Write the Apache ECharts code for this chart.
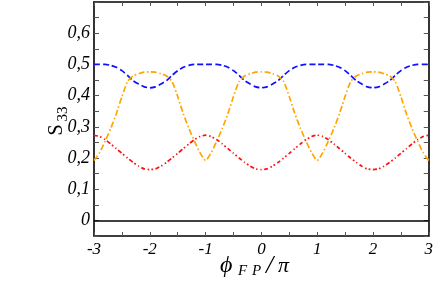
<!DOCTYPE html>
<html>
<head>
<meta charset="utf-8">
<script src="https://cdn.jsdelivr.net/npm/echarts@6/dist/echarts.min.js"></script>
<style>html,body{margin:0;padding:0;background:#fff}#c{width:436px;height:281px}</style>
</head>
<body>
<div id="c"></div>
<script>
// phi_FP / pi sample positions
var xValues = [];
for (var i = 0; i <= 60; i++) { xValues.push(Math.round((-3 + i * 0.1) * 10) / 10); }

var blueS = [
  0.500,0.500,0.500,0.497,0.491,0.480,0.465,0.448,0.437,0.428,0.425,
  0.428,0.437,0.448,0.465,0.480,0.491,0.497,0.500,0.500,0.500,
  0.500,0.500,0.497,0.491,0.480,0.465,0.448,0.437,0.428,0.425,
  0.428,0.437,0.448,0.465,0.480,0.491,0.497,0.500,0.500,0.500,
  0.500,0.500,0.497,0.491,0.480,0.465,0.448,0.437,0.428,0.425,
  0.428,0.437,0.448,0.465,0.480,0.491,0.497,0.500,0.500,0.500
];
var orangeS = [
  0.192,0.217,0.254,0.295,0.342,0.397,0.445,0.463,0.470,0.475,0.476,
  0.475,0.470,0.463,0.445,0.397,0.342,0.295,0.254,0.217,0.192,
  0.217,0.254,0.295,0.342,0.397,0.445,0.463,0.470,0.475,0.476,
  0.475,0.470,0.463,0.445,0.397,0.342,0.295,0.254,0.217,0.192,
  0.217,0.254,0.295,0.342,0.397,0.445,0.463,0.470,0.475,0.476,
  0.475,0.470,0.463,0.445,0.397,0.342,0.295,0.254,0.217,0.192
];
var redS = [
  0.273,0.269,0.259,0.245,0.230,0.215,0.200,0.186,0.174,0.165,0.163,
  0.165,0.174,0.186,0.200,0.215,0.230,0.245,0.259,0.269,0.273,
  0.269,0.259,0.245,0.230,0.215,0.200,0.186,0.174,0.165,0.163,
  0.165,0.174,0.186,0.200,0.215,0.230,0.245,0.259,0.269,0.273,
  0.269,0.259,0.245,0.230,0.215,0.200,0.186,0.174,0.165,0.163,
  0.165,0.174,0.186,0.200,0.215,0.230,0.245,0.259,0.269,0.273
];
var xTickLabels = ['-3','-2','-1','0','1','2','3'];
var yTickLabels = ['0','0,1','0,2','0,3','0,4','0,5','0,6'];

function pairs(ys) { return xValues.map(function (x, i) { return [x, ys[i]]; }); }

var serif = 'Liberation Serif';
var frame = { show: true, onZero: false, lineStyle: { color: '#000', width: 1.6 } };
var tickStyle = { color: '#555', width: 1 };

var chart = echarts.init(document.getElementById('c'), null, { renderer: 'canvas' });
chart.setOption({
  animation: false,
  grid: { left: 94, right: 6, top: 2, bottom: 45 },
  xAxis: [
    {
      type: 'value', min: -3, max: 3, interval: 1, position: 'bottom',
      axisLine: frame,
      axisTick: { show: true, inside: true, length: 4, lineStyle: tickStyle },
      minorTick: { show: true, splitNumber: 2, length: 4, lineStyle: tickStyle },
      splitLine: { show: false },
      axisLabel: {
        fontFamily: serif, fontStyle: 'italic', fontSize: 17, color: '#000', margin: 5,
        formatter: function (v) { var k = Math.round(v) + 3; return xTickLabels[k]; }
      }
    },
    {
      type: 'value', min: -3, max: 3, interval: 1, position: 'top',
      axisLine: frame,
      axisTick: { show: true, inside: true, length: 4, lineStyle: tickStyle },
      minorTick: { show: true, splitNumber: 2, length: 4, lineStyle: tickStyle },
      splitLine: { show: false }, axisLabel: { show: false }
    }
  ],
  yAxis: [
    {
      type: 'value', min: -0.05, max: 0.7, interval: 0.05, position: 'left',
      axisLine: frame,
      axisTick: { show: true, inside: true, length: 5, lineStyle: tickStyle },
      splitLine: { show: false },
      axisLabel: {
        fontFamily: serif, fontStyle: 'italic', fontSize: 18, color: '#000', margin: 4,
        formatter: function (v) {
          var k = Math.round(v * 20);
          if (k < 0 || k % 2 !== 0) return '';
          return yTickLabels[k / 2] || '';
        }
      }
    },
    {
      type: 'value', min: -0.05, max: 0.7, interval: 0.05, position: 'right',
      axisLine: frame,
      axisTick: { show: true, inside: true, length: 5, lineStyle: tickStyle },
      splitLine: { show: false }, axisLabel: { show: false }
    }
  ],
  graphic: [
    { type: 'text', x: 57, y: 130, rotation: Math.PI / 2, style: { text: 'S', font: '20px "Liberation Serif"', fill: '#000', align: 'center', verticalAlign: 'middle' } },
    { type: 'text', x: 63, y: 114, rotation: Math.PI / 2, style: { text: '33', font: '15px "Liberation Serif"', fill: '#000', align: 'center', verticalAlign: 'middle' } },
    { type: 'text', x: 220, y: 266, style: { text: '\u03d5', font: 'italic 24px "Liberation Serif"', fill: '#000', align: 'left', verticalAlign: 'middle' } },
    { type: 'text', x: 238, y: 271, style: { text: 'F', font: 'italic 15px "Liberation Serif"', fill: '#000', align: 'left', verticalAlign: 'middle' } },
    { type: 'text', x: 252, y: 271, style: { text: 'P', font: 'italic 15px "Liberation Serif"', fill: '#000', align: 'left', verticalAlign: 'middle' } },
    { type: 'text', x: 266, y: 266, style: { text: '/', font: 'italic 26px "Liberation Serif"', fill: '#000', align: 'left', verticalAlign: 'middle' } },
    { type: 'text', x: 278, y: 266, style: { text: '\u03c0', font: 'italic 22px "Liberation Serif"', fill: '#000', align: 'left', verticalAlign: 'middle' } }
  ],
  series: [
    {
      type: 'line', data: pairs(blueS), showSymbol: false, symbol: 'none', smooth: 0.2,
      lineStyle: { color: '#1010ff', width: 1.7, type: [6, 3] },
      markLine: {
        silent: true, symbol: 'none', label: { show: false },
        lineStyle: { color: '#000', width: 1.5, type: 'solid' },
        data: [{ yAxis: 0 }]
      }
    },
    {
      type: 'line', data: pairs(orangeS), showSymbol: false, symbol: 'none', smooth: 0.2,
      lineStyle: { color: '#ffa500', width: 1.7, type: [6, 2.5, 1.5, 2.5] }
    },
    {
      type: 'line', data: pairs(redS), showSymbol: false, symbol: 'none', smooth: 0.2,
      lineStyle: { color: '#ff1010', width: 1.7, type: [4, 2.5, 1.5, 2.5, 1.5, 2.5] }
    }
  ]
});
</script>
</body>
</html>
